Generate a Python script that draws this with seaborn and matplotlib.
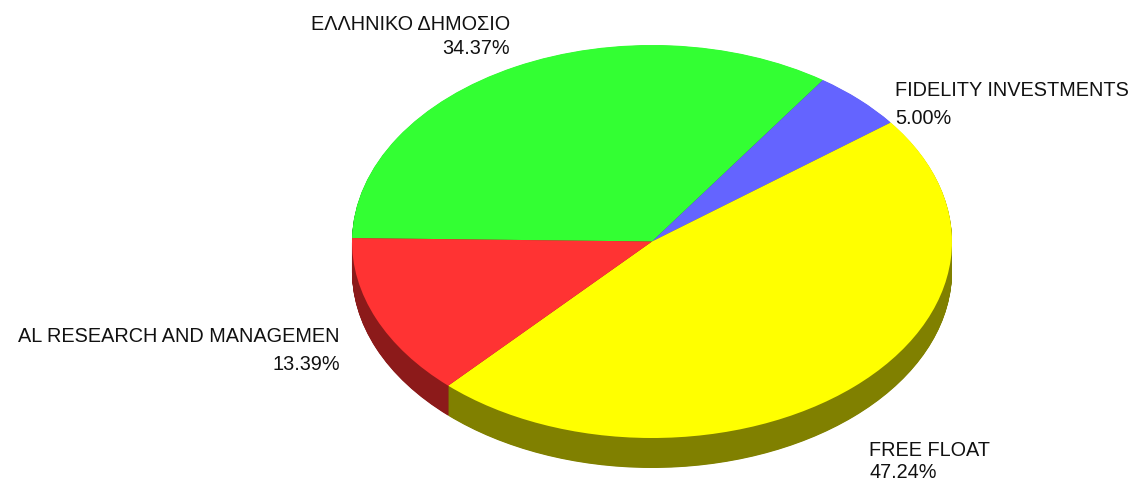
import matplotlib
matplotlib.use("Agg")
import matplotlib.pyplot as plt
import seaborn as sns

# ---- data ----
labels = ["ΕΛΛΗΝΙΚΟ ΔΗΜΟΣΙΟ", "FIDELITY INVESTMENTS", "FREE FLOAT", "AL RESEARCH AND MANAGEMEN"]
values = [34.37, 5.00, 47.24, 13.39]
top_colors = ["#33FF33", "#6464FF", "#FFFF00", "#FF3333"]
side_colors = ["#1A8C1A", "#32328C", "#808000", "#8C1A1A"]

sns.set_theme(style="white")
plt.rcParams["font.family"] = ["Liberation Sans", "DejaVu Sans"]

W, H = 1130, 482
fig = plt.figure(figsize=(W / 100, H / 100), dpi=100)
ax = fig.add_axes([0, 0, 1, 1])

# ellipse geometry in pixels
cx, cy, rx, ry, depth = 652, 241.5, 300, 196.5, 30
d = depth / ry

n_layers = 60
for i in range(n_layers, 0, -1):
    ax.pie(values, colors=side_colors, startangle=179, counterclock=False,
           center=(0, -d * i / n_layers), radius=1,
           wedgeprops=dict(linewidth=0, antialiased=True))
ax.pie(values, colors=top_colors, startangle=179, counterclock=False,
       center=(0, 0), radius=1,
       wedgeprops=dict(linewidth=0, antialiased=True))

ax.set_aspect("auto")
ax.set_xlim(-cx / rx, (W - cx) / rx)
ax.set_ylim(-(H - cy) / ry, cy / ry)
ax.axis("off")

fs = 14.3
def put(x, y, s, ha):
    fig.text(x / W, 1 - y / H, s, ha=ha, va="center", fontsize=fs, color="#111111")

pcts = [f"{v:.2f}%" for v in values]
# label anchor positions (pixels): (x, y_name, y_pct, ha)
anchors = [(510, 24, 49, "right"), (895, 91, 118, "left"),
           (869, 451, 473, "left"), (340, 337, 364, "right")]
for lab, pct, (x, y1, y2, ha) in zip(labels, pcts, anchors):
    put(x, y1, lab, ha)
    put(x, y2, pct, ha)

fig.savefig("out.png", dpi=100, facecolor="white")
